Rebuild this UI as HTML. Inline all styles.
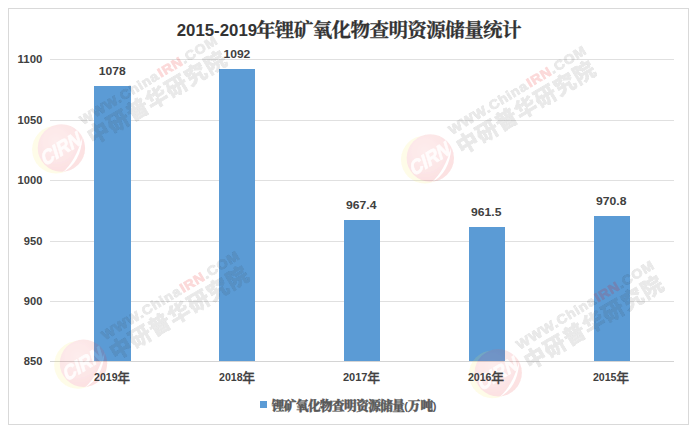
<!DOCTYPE html>
<html><head><meta charset="utf-8"><title>chart</title>
<style>html,body{margin:0;padding:0;background:#fff}svg{display:block}text{font-family:"Liberation Sans",sans-serif}</style>
</head><body>
<svg width="696" height="433" viewBox="0 0 696 433">
<defs>
<radialGradient id="rg" cx="0.38" cy="0.36" r="0.7"><stop offset="0" stop-color="#f08080"/><stop offset="0.6" stop-color="#ea5055"/><stop offset="1" stop-color="#e42830"/></radialGradient><filter id="bl" x="-5%" y="-5%" width="110%" height="110%"><feGaussianBlur stdDeviation="0.45"/></filter><g id="wm" filter="url(#bl)"><g opacity="0.14"><circle cx="-5.4" cy="1.6" r="23.9" fill="#f8ea5a"/><circle cx="0" cy="0" r="23.7" fill="url(#rg)"/><path d="M21,-11 Q19.5,15 1.0,24.6 Q14.5,13 21,-11 Z" fill="#fff" /><text transform="rotate(-31) skewX(-14)" x="-0.3" y="7.0" text-anchor="middle" font-size="20" fill="#fff" stroke="#fff" stroke-width="0.7" opacity="0.85" textLength="44" lengthAdjust="spacingAndGlyphs" style="font-family:'Liberation Sans',sans-serif;font-weight:bold;">CIRN</text></g><g transform="rotate(-31.1)"><g transform="translate(30.4,-8.6) scale(1.08,1)"><text x="0.00" y="0" font-size="13.2" fill="#2a2a2a" stroke="#2a2a2a" stroke-width="0.8" opacity="0.11" style="font-family:'Liberation Sans',sans-serif;font-weight:bold;letter-spacing:0.75px">WWW.China</text><text x="84.46" y="0" font-size="13.2" fill="#e60012" stroke="#e60012" stroke-width="0.8" opacity="0.15" style="font-family:'Liberation Sans',sans-serif;font-weight:bold;letter-spacing:0.75px">IRN</text><text x="109.44" y="0" font-size="13.2" fill="#2a2a2a" stroke="#2a2a2a" stroke-width="0.8" opacity="0.11" style="font-family:'Liberation Sans',sans-serif;font-weight:bold;letter-spacing:0.75px">.COM</text></g><text x="28.80 51.50 74.20 96.90 119.60 142.30 165.00" y="14" font-size="21.5" fill="#2a2a2a" stroke="#2a2a2a" stroke-width="0.86" opacity="0.11" style="font-family:'Liberation Sans','Noto Sans CJK SC',sans-serif;font-weight:bold">中研普华研究院</text></g></g>
</defs>
<rect width="696" height="433" fill="#fff"/>
<rect x="8.5" y="8.5" width="680" height="416" fill="#fff" stroke="#d9d9d9" stroke-width="1"/>
<rect x="50" y="59" width="624" height="1" fill="#e0e0e0"/>
<rect x="50" y="120" width="624" height="1" fill="#e0e0e0"/>
<rect x="50" y="180" width="624" height="1" fill="#e0e0e0"/>
<rect x="50" y="241" width="624" height="1" fill="#e0e0e0"/>
<rect x="50" y="301" width="624" height="1" fill="#e0e0e0"/>
<rect x="50" y="361" width="624" height="1" fill="#d4d4d4"/>
<rect x="94" y="86" width="37" height="275" fill="#5b9bd5"/><rect x="219" y="69" width="36" height="292" fill="#5b9bd5"/><rect x="344" y="220" width="36" height="141" fill="#5b9bd5"/><rect x="469" y="227" width="36" height="134" fill="#5b9bd5"/><rect x="594" y="216" width="36" height="145" fill="#5b9bd5"/>
<g><use href="#wm" x="61.4" y="148"/><use href="#wm" x="430.3" y="158"/><use href="#wm" x="83.5" y="363.3"/><use href="#wm" x="498.2" y="372.8"/></g>
<text x="17.60" y="63.3" font-size="10.7" textLength="24.80" lengthAdjust="spacingAndGlyphs" fill="#404040" style="font-family:'Liberation Sans',sans-serif;font-weight:bold">1100</text>
<text x="17.60" y="124.3" font-size="10.7" textLength="24.80" lengthAdjust="spacingAndGlyphs" fill="#404040" style="font-family:'Liberation Sans',sans-serif;font-weight:bold">1050</text>
<text x="17.60" y="184.3" font-size="10.7" textLength="24.80" lengthAdjust="spacingAndGlyphs" fill="#404040" style="font-family:'Liberation Sans',sans-serif;font-weight:bold">1000</text>
<text x="23.80" y="245.3" font-size="10.7" textLength="18.60" lengthAdjust="spacingAndGlyphs" fill="#404040" style="font-family:'Liberation Sans',sans-serif;font-weight:bold">950</text>
<text x="23.80" y="305.3" font-size="10.7" textLength="18.60" lengthAdjust="spacingAndGlyphs" fill="#404040" style="font-family:'Liberation Sans',sans-serif;font-weight:bold">900</text>
<text x="23.80" y="365.3" font-size="10.7" textLength="18.60" lengthAdjust="spacingAndGlyphs" fill="#404040" style="font-family:'Liberation Sans',sans-serif;font-weight:bold">850</text>
<text x="98.85" y="75" font-size="11.0" textLength="26.9" lengthAdjust="spacingAndGlyphs" fill="#404040" style="font-family:'Liberation Sans',sans-serif;font-weight:bold">1078</text>
<text x="223.45" y="58" font-size="11.0" textLength="26.9" lengthAdjust="spacingAndGlyphs" fill="#404040" style="font-family:'Liberation Sans',sans-serif;font-weight:bold">1092</text>
<text x="346.10" y="209" font-size="11.0" textLength="30.4" lengthAdjust="spacingAndGlyphs" fill="#404040" style="font-family:'Liberation Sans',sans-serif;font-weight:bold">967.4</text>
<text x="471.00" y="216" font-size="11.0" textLength="30.4" lengthAdjust="spacingAndGlyphs" fill="#404040" style="font-family:'Liberation Sans',sans-serif;font-weight:bold">961.5</text>
<text x="596.00" y="205" font-size="11.0" textLength="30.4" lengthAdjust="spacingAndGlyphs" fill="#404040" style="font-family:'Liberation Sans',sans-serif;font-weight:bold">970.8</text>
<text x="94.05" y="381" font-size="10.7" textLength="23.5" lengthAdjust="spacingAndGlyphs" fill="#404040" style="font-family:'Liberation Sans',sans-serif;font-weight:bold">2019</text>
<text x="117.37" y="381.75" font-size="12.8" fill="#404040" stroke="#404040" stroke-width="0.28" style="font-family:'Liberation Sans','Noto Sans CJK SC',sans-serif;font-weight:500">年</text>
<text x="219.05" y="381" font-size="10.7" textLength="23.5" lengthAdjust="spacingAndGlyphs" fill="#404040" style="font-family:'Liberation Sans',sans-serif;font-weight:bold">2018</text>
<text x="242.37" y="381.75" font-size="12.8" fill="#404040" stroke="#404040" stroke-width="0.28" style="font-family:'Liberation Sans','Noto Sans CJK SC',sans-serif;font-weight:500">年</text>
<text x="342.9" y="381" font-size="10.7" textLength="24.6" lengthAdjust="spacingAndGlyphs" fill="#404040" style="font-family:'Liberation Sans',sans-serif;font-weight:bold">2017</text>
<text x="367.32" y="381.75" font-size="12.8" fill="#404040" stroke="#404040" stroke-width="0.28" style="font-family:'Liberation Sans','Noto Sans CJK SC',sans-serif;font-weight:500">年</text>
<text x="467.9" y="381" font-size="10.7" textLength="23.6" lengthAdjust="spacingAndGlyphs" fill="#404040" style="font-family:'Liberation Sans',sans-serif;font-weight:bold">2016</text>
<text x="491.32" y="381.75" font-size="12.8" fill="#404040" stroke="#404040" stroke-width="0.28" style="font-family:'Liberation Sans','Noto Sans CJK SC',sans-serif;font-weight:500">年</text>
<text x="592.9" y="381" font-size="10.7" textLength="23.6" lengthAdjust="spacingAndGlyphs" fill="#404040" style="font-family:'Liberation Sans',sans-serif;font-weight:bold">2015</text>
<text x="616.32" y="381.75" font-size="12.8" fill="#404040" stroke="#404040" stroke-width="0.28" style="font-family:'Liberation Sans','Noto Sans CJK SC',sans-serif;font-weight:500">年</text>
<text x="176.7" y="36.3" font-size="16.3" textLength="80.4" lengthAdjust="spacingAndGlyphs" fill="#333333" style="font-family:'Liberation Sans',sans-serif;font-weight:bold">2015-2019</text>
<text x="255.90 274.83 293.76 312.69 331.62 350.55 369.48 388.41 407.34 426.27 445.20 464.13 483.06 501.99" y="36.5" font-size="19.5" fill="#333333" stroke="#333333" stroke-width="0.27" style="font-family:'Liberation Serif','Noto Serif CJK SC',serif;font-weight:bold">年锂矿氧化物查明资源储量统计</text>
<rect x="260" y="401" width="7" height="7" fill="#5b9bd5"/>
<text x="271.80 283.85 295.90 307.95 320.00 332.05 344.10 356.15 368.20 380.25 392.30" y="410.2" font-size="12.6" fill="#595959" stroke="#595959" stroke-width="0.44" style="font-family:'Liberation Serif','Noto Serif CJK SC',serif;font-weight:900">锂矿氧化物查明资源储量</text>
<text x="404.3" y="409.6" font-size="11" fill="#595959" style="font-family:'Liberation Sans',sans-serif;font-weight:bold">(</text>
<text x="407.80 420.50" y="410.2" font-size="12.6" fill="#595959" stroke="#595959" stroke-width="0.44" style="font-family:'Liberation Serif','Noto Serif CJK SC',serif;font-weight:900">万吨</text>
<text x="432.8" y="409.6" font-size="11" fill="#595959" style="font-family:'Liberation Sans',sans-serif;font-weight:bold">)</text>
</svg>
</body></html>
